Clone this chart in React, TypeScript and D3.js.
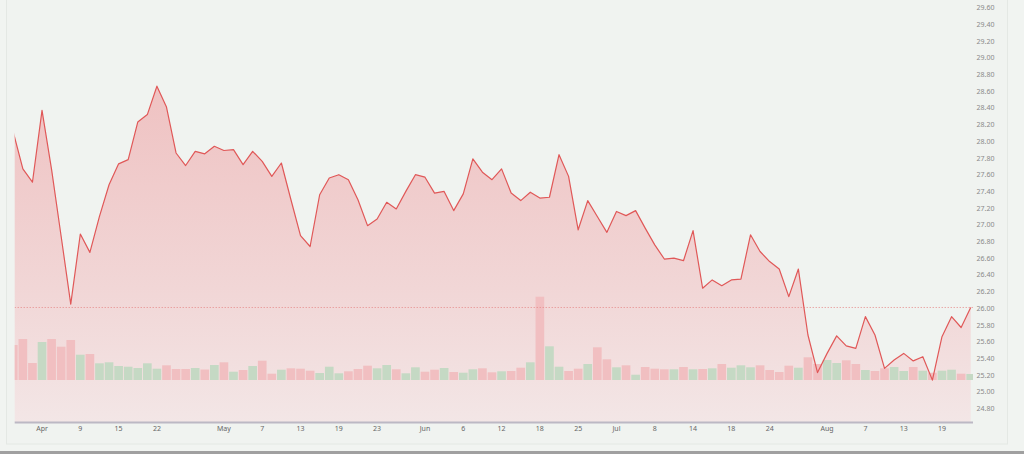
import React from "react";
import * as d3 from "d3";

const closes = [
  28.11, 27.67, 27.51, 28.37, 27.66, 26.86, 26.05, 26.89, 26.67, 27.10,
  27.48, 27.73, 27.78, 28.23, 28.32, 28.66, 28.41, 27.86, 27.71, 27.88,
  27.85, 27.94, 27.89, 27.90, 27.72, 27.88, 27.76, 27.58, 27.74, 27.30,
  26.87, 26.74, 27.36, 27.56, 27.60, 27.54, 27.30, 26.99, 27.07, 27.27,
  27.19, 27.40, 27.60, 27.57, 27.38, 27.40, 27.17, 27.37, 27.79, 27.63,
  27.54, 27.67, 27.38, 27.29, 27.39, 27.32, 27.33, 27.84, 27.58, 26.94,
  27.29, 27.10, 26.91, 27.16, 27.11, 27.17, 26.96, 26.76, 26.59, 26.60,
  26.57, 26.93, 26.24, 26.34, 26.27, 26.34, 26.35, 26.88, 26.68, 26.56,
  26.47, 26.14, 26.47, 25.68, 25.23, 25.46, 25.67, 25.55, 25.52, 25.90,
  25.68, 25.28, 25.38, 25.46, 25.37, 25.42, 25.14, 25.66, 25.90, 25.77,
  26.01,
];

const volumes = [
  35, 41, 17, 38, 41, 33.3, 40, 25.3, 26, 16.7,
  17.7, 14, 13.3, 12, 16.7, 11.3, 14.7, 11, 11, 12,
  10.5, 15, 17.7, 8.3, 10, 14, 19.3, 6.3, 10.3, 11.7,
  11.3, 9.3, 7, 13.3, 6.7, 8.7, 11, 14.3, 11.7, 15,
  10.7, 6.7, 12.7, 8.3, 10.3, 12, 8, 7.3, 10.7, 11.7,
  7.7, 8.7, 9, 12.3, 17.7, 83.3, 33.7, 13.3, 9, 11.3,
  16, 32.7, 20.7, 12.7, 14.7, 5.3, 13, 11.3, 10.7, 10.7,
  13, 10.7, 11, 11.7, 16, 12.3, 14.7, 12.7, 14.7, 10,
  8, 14.3, 12.3, 22.7, 16, 20, 17, 19.7, 16, 10,
  9, 11.7, 13, 9, 13, 9.3, 7.3, 9.3, 10.3, 6.3,
  6,
];

const tickLabels = ["Apr", "9", "15", "22", "May", "7", "13", "19", "23", "Jun", "6", "12", "18", "25", "Jul", "8", "14", "18", "24", "Aug", "7", "13", "19"];
const tickIdx = [3, 7, 11, 15, 22, 26, 30, 34, 38, 43, 47, 51, 55, 59, 63, 67, 71, 75, 79, 85, 89, 93, 97];

const priceTicks = d3.range(0, 25).map((k) => 24.8 + k * 0.2);

const W = 1024;
const H = 454;
const plotLeft = 14.7;
const plotRight = 973;
const plotBottom = 422;

export default function App() {
  const n = closes.length;
  const x = d3.scaleLinear().domain([0, n - 1]).range([13.3, 970.7]);
  const y = d3.scaleLinear().domain([24.8, 29.6]).range([408.5, 7.7]);
  const yVol = d3.scaleLinear().domain([0, 100]).range([380, 280]);
  const step = x(1) - x(0);
  const barW = step - 0.9;

  const idx = d3.range(n);
  const lineGen = d3
    .line<number>()
    .x((i) => x(i))
    .y((i) => y(closes[i]));
  const areaGen = d3
    .area<number>()
    .x((i) => x(i))
    .y0(plotBottom)
    .y1((i) => y(closes[i]));

  const last = closes[n - 1];
  const fmt = d3.format(".2f");

  return (
    <svg
      width={W}
      height={H}
      style={{ position: "absolute", left: 0, top: 0, display: "block" }}
      fontFamily="'Noto Sans', 'DejaVu Sans', sans-serif"
    >
      <defs>
        <clipPath id="plotClip">
          <rect x={plotLeft} y={0} width={plotRight - plotLeft} height={plotBottom} />
        </clipPath>
        <linearGradient id="areaGrad" gradientUnits="userSpaceOnUse" x1="0" y1={y(28.66)} x2="0" y2={plotBottom}>
          <stop offset="0" stopColor="#efc2c2" />
          <stop offset="0.6" stopColor="#f1d6d6" />
          <stop offset="1" stopColor="#f3e6e6" />
        </linearGradient>
      </defs>
      <rect x={0} y={0} width={W} height={H} fill="#f1f4f1" />
      <rect x={6.5} y={-1} width={1001} height={445} fill="#f0f3f0" stroke="#e4e8e4" strokeWidth={1} />
      <rect x={0} y={451} width={W} height={3} fill="#a0a0a0" />

      <g clipPath="url(#plotClip)">
        <path d={areaGen(idx) || ""} fill="url(#areaGrad)" />
        {idx.map((i) => {
          const up = i > 0 && closes[i] > closes[i - 1];
          return (
            <rect
              key={i}
              x={x(i) - barW / 2}
              y={yVol(volumes[i])}
              width={barW}
              height={yVol(0) - yVol(volumes[i])}
              fill={up ? "#c5d9c4" : "#f1bfc1"}
            />
          );
        })}
        <line
          x1={plotLeft}
          x2={plotRight}
          y1={y(last)}
          y2={y(last)}
          stroke="#e58585"
          strokeWidth={1}
          strokeDasharray="1 2"
        />
        <path d={lineGen(idx) || ""} fill="none" stroke="#e05858" strokeWidth={1.2} strokeLinejoin="round" />
      </g>

      <line x1={plotLeft} x2={plotRight} y1={plotBottom + 0.5} y2={plotBottom + 0.5} stroke="#bcb8c4" strokeWidth={2} />

      {tickIdx.map((ti, k) => (
        <text
          key={"xt" + k}
          x={x(ti)}
          y={431}
          fontSize={7}
          fill="#666666"
          textAnchor="middle"
        >
          {tickLabels[k]}
        </text>
      ))}

      {priceTicks.map((v, k) => (
        <text
          key={"yt" + k}
          x={985.5}
          y={y(v) + 2.5}
          fontSize={7}
          fill="#8a8a8a"
          textAnchor="middle"
        >
          {fmt(v)}
        </text>
      ))}
    </svg>
  );
}
